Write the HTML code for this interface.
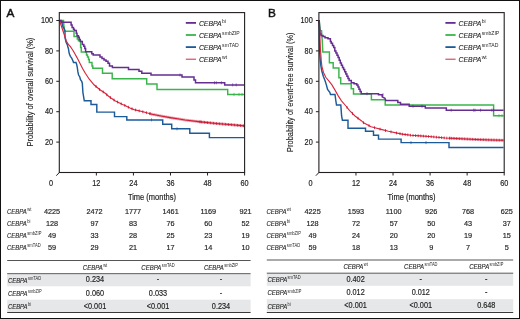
<!DOCTYPE html>
<html><head><meta charset="utf-8"><style>
html,body{margin:0;padding:0;background:#fff;}
svg{display:block;font-family:"Liberation Sans", sans-serif;will-change:transform;}
</style></head><body>
<svg width="520" height="319" viewBox="0 0 520 319">
<rect x="0" y="0" width="520" height="319" fill="#fff"/>
<g transform="translate(0,0)">
<text x="6.5" y="16.8" font-size="11.8" fill="#111" stroke="#111" stroke-width="0.45">A</text>
<line x1="56.3" y1="142.10" x2="59.3" y2="142.10" stroke="#231f20" stroke-width="1"/>
<text x="53.10" y="144.85" font-size="8.3" fill="#1f1f1f" text-anchor="end" textLength="8.12" lengthAdjust="spacingAndGlyphs" stroke="#1f1f1f" stroke-width="0.18">20</text>
<line x1="56.3" y1="111.70" x2="59.3" y2="111.70" stroke="#231f20" stroke-width="1"/>
<text x="53.10" y="114.45" font-size="8.3" fill="#1f1f1f" text-anchor="end" textLength="8.12" lengthAdjust="spacingAndGlyphs" stroke="#1f1f1f" stroke-width="0.18">40</text>
<line x1="56.3" y1="81.30" x2="59.3" y2="81.30" stroke="#231f20" stroke-width="1"/>
<text x="53.10" y="84.05" font-size="8.3" fill="#1f1f1f" text-anchor="end" textLength="8.12" lengthAdjust="spacingAndGlyphs" stroke="#1f1f1f" stroke-width="0.18">60</text>
<line x1="56.3" y1="50.90" x2="59.3" y2="50.90" stroke="#231f20" stroke-width="1"/>
<text x="53.10" y="53.65" font-size="8.3" fill="#1f1f1f" text-anchor="end" textLength="8.12" lengthAdjust="spacingAndGlyphs" stroke="#1f1f1f" stroke-width="0.18">80</text>
<line x1="56.3" y1="20.50" x2="59.3" y2="20.50" stroke="#231f20" stroke-width="1"/>
<text x="53.10" y="23.25" font-size="8.3" fill="#1f1f1f" text-anchor="end" textLength="12.18" lengthAdjust="spacingAndGlyphs" stroke="#1f1f1f" stroke-width="0.18">100</text>
<line x1="59.3" y1="172.5" x2="56.3" y2="175.7" stroke="#231f20" stroke-width="1"/>
<line x1="96.36" y1="172.5" x2="96.36" y2="175.5" stroke="#231f20" stroke-width="1"/>
<text x="96.36" y="185.60" font-size="8.3" fill="#1f1f1f" text-anchor="middle" textLength="8.12" lengthAdjust="spacingAndGlyphs" stroke="#1f1f1f" stroke-width="0.18">12</text>
<line x1="133.42" y1="172.5" x2="133.42" y2="175.5" stroke="#231f20" stroke-width="1"/>
<text x="133.42" y="185.60" font-size="8.3" fill="#1f1f1f" text-anchor="middle" textLength="8.12" lengthAdjust="spacingAndGlyphs" stroke="#1f1f1f" stroke-width="0.18">24</text>
<line x1="170.48" y1="172.5" x2="170.48" y2="175.5" stroke="#231f20" stroke-width="1"/>
<text x="170.48" y="185.60" font-size="8.3" fill="#1f1f1f" text-anchor="middle" textLength="8.12" lengthAdjust="spacingAndGlyphs" stroke="#1f1f1f" stroke-width="0.18">36</text>
<line x1="207.54" y1="172.5" x2="207.54" y2="175.5" stroke="#231f20" stroke-width="1"/>
<text x="207.54" y="185.60" font-size="8.3" fill="#1f1f1f" text-anchor="middle" textLength="8.12" lengthAdjust="spacingAndGlyphs" stroke="#1f1f1f" stroke-width="0.18">48</text>
<line x1="244.60" y1="172.5" x2="244.60" y2="175.5" stroke="#231f20" stroke-width="1"/>
<text x="244.60" y="185.60" font-size="8.3" fill="#1f1f1f" text-anchor="middle" textLength="8.12" lengthAdjust="spacingAndGlyphs" stroke="#1f1f1f" stroke-width="0.18">60</text>
<text x="51.00" y="185.60" font-size="8.3" fill="#1f1f1f" text-anchor="middle" textLength="4.06" lengthAdjust="spacingAndGlyphs" stroke="#1f1f1f" stroke-width="0.18">0</text>
<text x="151.90" y="200.40" font-size="8.4" fill="#1f1f1f" text-anchor="middle" textLength="48.00" lengthAdjust="spacingAndGlyphs" stroke="#1f1f1f" stroke-width="0.18">Time (months)</text>
<text transform="translate(33,92.1) rotate(-90)" font-size="8.2" fill="#1f1f1f" stroke="#1f1f1f" stroke-width="0.12" text-anchor="middle" textLength="108.8" lengthAdjust="spacingAndGlyphs">Probability of overall survival (%)</text>
<line x1="185.8" y1="22.90" x2="196" y2="22.90" stroke="#662d91" stroke-width="1.8"/>
<text x="198.90" y="26.00" font-size="8.0" font-style="italic" fill="#262626" stroke="#262626" stroke-width="0.12" textLength="22.80" lengthAdjust="spacingAndGlyphs">CEBPA</text><text x="222.10" y="22.70" font-size="5.8" fill="#262626" textLength="3.97" lengthAdjust="spacingAndGlyphs">bi</text>
<line x1="185.8" y1="35.00" x2="196" y2="35.00" stroke="#39b54a" stroke-width="1.8"/>
<text x="198.90" y="38.00" font-size="8.0" font-style="italic" fill="#262626" stroke="#262626" stroke-width="0.12" textLength="22.80" lengthAdjust="spacingAndGlyphs">CEBPA</text><text x="222.10" y="34.70" font-size="5.8" fill="#262626" textLength="17.57" lengthAdjust="spacingAndGlyphs">smbZIP</text>
<line x1="185.8" y1="47.10" x2="196" y2="47.10" stroke="#1c5a99" stroke-width="1.8"/>
<text x="198.90" y="50.00" font-size="8.0" font-style="italic" fill="#262626" stroke="#262626" stroke-width="0.12" textLength="22.80" lengthAdjust="spacingAndGlyphs">CEBPA</text><text x="222.10" y="46.70" font-size="5.8" fill="#262626" textLength="16.62" lengthAdjust="spacingAndGlyphs">smTAD</text>
<line x1="185.8" y1="59.20" x2="196" y2="59.20" stroke="#d7263d" stroke-width="1.0"/>
<text x="198.90" y="62.00" font-size="8.0" font-style="italic" fill="#262626" stroke="#262626" stroke-width="0.12" textLength="22.80" lengthAdjust="spacingAndGlyphs">CEBPA</text><text x="222.10" y="58.70" font-size="5.8" fill="#262626" textLength="5.10" lengthAdjust="spacingAndGlyphs">wt</text>
<path d="M59.4,20.5 H63.5 V23 H63.8 V27 H64.2 V31.2 H74 V36.4 H77.3 V39 H78.4 V40.8 H80.6 V47.5 H81.3 V52 H86.5 V55 H87.5 V57 H88.5 V59.5 H89.3 V62.5 H92 V66 H92.8 V68.3 H102.5 V73.3 H112.2 V78.8 H146.7 V83.9 H157 V89.4 H227.7 V94.4 H244.5" fill="none" stroke="#39b54a" stroke-width="1.45"/>
<path d="M59.4,20.5 L61.2,22.2 L62.2,23.6 L62.6,25.5 L63.1,27.4 L64.1,28.4 L64.5,29.3 L65,30.7 L65,37.8 L65.5,39.6 L65.9,41.5 L66.4,43 L67.4,44.8 L67.8,46.7 L68.4,48.5 L68.8,51 L69.3,53.8 L70.4,56.3 L71.7,58.1 L72.9,60.7 L73.5,62.5 H76 L76.7,64.4 L77.3,67.5 L77.9,71.9 L78.6,75 L79.8,77 L80.4,79.4 L81.7,81.3 L82.3,83.2 L82.6,87.6 L82.9,92.5 L83.8,97.8 L84.3,100.8 H91 V104.5 H96.8 V112.1 H114.5 V116.6 H126.8 V119.9 H162.7 V124.3 H171.7 V128.8 H189.8 V133.2 H209.4 V137.6 H244.5" fill="none" stroke="#1c5a99" stroke-width="1.45"/>
<path d="M59.4,20.5 H61 V21.5 H62 V22.2 H71.1 V25 H72.1 V27.4 H73.5 V29.3 H74.4 V30.4 H76.3 V33.3 H77 V35.8 H78.4 V37.2 H79.3 V39.6 H80.2 V41.4 H82.3 V44.6 H83.8 V46.3 H84.8 V48.6 H85.6 V51.8 H91.8 V53.8 H93.2 V55.1 H100 V57 H102 V58.6 H104 V60.1 H106 V61.3 H108 V63.2 H109.5 V65.9 H112.4 V67.6 H128.5 V69.6 H139 V71.2 H141.8 V73.3 H151 V75.0 H182 V77.1 H194 V80 H195.5 V82.8 H224.7 V84.9 H244.5" fill="none" stroke="#662d91" stroke-width="1.5"/>
<path d="M180,73.50V76.50M214.5,81.30V84.30M216.3,81.30V84.30M221.4,81.30V84.30M232.7,83.40V86.40M236.2,83.40V86.40" stroke="#662d91" stroke-width="0.7" fill="none"/><path d="M234,92.90V95.90M239,92.90V95.90M242,92.90V95.90" stroke="#39b54a" stroke-width="0.7" fill="none"/><path d="M177,127.30V130.30M151.5,118.40V121.40" stroke="#1c5a99" stroke-width="0.7" fill="none"/>
<path d="M59.4,20.7 L60.5,23.5 L62,28 L63.5,32.5 L65,36.8 L66.3,41 L68.3,44.4 L70.4,46.6 L72,49 L73.3,51 L75,54 L77,57.6 L79.9,63.2 L82.7,68.8 L85.5,73.5 L89.3,79.2 L94,84.8 L99.6,89.5 L105.2,93.3 L108,95.8 L111,98 L115,100.7 L119.5,103 L122.6,104.5 L125,105.5 L130,108 L134,109.6 L143,111.8 L152,114.2 L161,116 L170,117.6 L179,119 L185,120 L200.7,121.9 L216.3,123.5 L232,124.8 L244.5,125.9" fill="none" stroke="#d7263d" stroke-width="1.15"/>
<path d="M96.00,85.08V87.88M99.60,88.10V90.90M103.20,90.54V93.34M106.80,93.33V96.13M110.40,96.16V98.96M114.00,98.62V101.42M117.60,100.63V103.43M121.20,102.42V105.22M124.80,104.02V106.82M128.40,105.80V108.60M132.00,107.40V110.20M135.60,108.59V111.39M139.20,109.47V112.27M142.80,110.35V113.15M146.40,111.31V114.11M150.00,112.27V115.07M150.00,112.27V115.07M152.00,112.80V115.60M154.00,113.20V116.00M156.00,113.60V116.40M158.00,114.00V116.80M160.00,114.40V117.20M162.00,114.78V117.58M164.00,115.13V117.93M166.00,115.49V118.29M168.00,115.84V118.64M170.00,116.20V119.00M172.00,116.51V119.31M174.00,116.82V119.62M176.00,117.13V119.93M178.00,117.44V120.24M180.00,117.77V120.57M182.00,118.10V120.90M184.00,118.43V121.23M186.00,118.72V121.52M188.00,118.96V121.76M190.00,119.21V122.01M192.00,119.45V122.25M194.00,119.69V122.49M196.00,119.93V122.73M198.00,120.17V122.97M200.00,120.42V123.22M200.00,120.42V123.22M201.50,120.58V123.38M203.00,120.74V123.54M204.50,120.89V123.69M206.00,121.04V123.84M207.50,121.20V124.00M209.00,121.35V124.15M210.50,121.51V124.31M212.00,121.66V124.46M213.50,121.81V124.61M215.00,121.97V124.77M216.50,122.12V124.92M218.00,122.24V125.04M219.50,122.36V125.16M221.00,122.49V125.29M222.50,122.61V125.41M224.00,122.74V125.54M225.50,122.86V125.66M227.00,122.99V125.79M228.50,123.11V125.91M230.00,123.23V126.03M231.50,123.36V126.16M233.00,123.49V126.29M234.50,123.62V126.42M236.00,123.75V126.55M237.50,123.88V126.68M239.00,124.02V126.82M240.50,124.15V126.95M242.00,124.28V127.08M243.50,124.41V127.21" stroke="#c8102e" stroke-width="0.8" fill="none"/>
<rect x="59.3" y="12.6" width="185.30" height="159.90" fill="none" stroke="#231f20" stroke-width="1.1"/>
<text x="6.95" y="213.70" font-size="6.4" font-style="italic" fill="#262626" stroke="#262626" stroke-width="0.12" textLength="19.90" lengthAdjust="spacingAndGlyphs">CEBPA</text><text x="27.25" y="211.20" font-size="4.7" fill="#262626" textLength="4.10" lengthAdjust="spacingAndGlyphs">wt</text>
<text x="52.00" y="213.70" font-size="8.0" fill="#1f1f1f" text-anchor="middle" textLength="16.24" lengthAdjust="spacingAndGlyphs" stroke="#1f1f1f" stroke-width="0.18">4225</text>
<text x="94.50" y="213.70" font-size="8.0" fill="#1f1f1f" text-anchor="middle" textLength="16.24" lengthAdjust="spacingAndGlyphs" stroke="#1f1f1f" stroke-width="0.18">2472</text>
<text x="133.00" y="213.70" font-size="8.0" fill="#1f1f1f" text-anchor="middle" textLength="16.24" lengthAdjust="spacingAndGlyphs" stroke="#1f1f1f" stroke-width="0.18">1777</text>
<text x="170.60" y="213.70" font-size="8.0" fill="#1f1f1f" text-anchor="middle" textLength="16.24" lengthAdjust="spacingAndGlyphs" stroke="#1f1f1f" stroke-width="0.18">1461</text>
<text x="208.30" y="213.70" font-size="8.0" fill="#1f1f1f" text-anchor="middle" textLength="15.70" lengthAdjust="spacingAndGlyphs" stroke="#1f1f1f" stroke-width="0.18">1169</text>
<text x="245.50" y="213.70" font-size="8.0" fill="#1f1f1f" text-anchor="middle" textLength="12.18" lengthAdjust="spacingAndGlyphs" stroke="#1f1f1f" stroke-width="0.18">921</text>
<text x="6.95" y="225.67" font-size="6.4" font-style="italic" fill="#262626" stroke="#262626" stroke-width="0.12" textLength="19.90" lengthAdjust="spacingAndGlyphs">CEBPA</text><text x="27.25" y="223.17" font-size="4.7" fill="#262626" textLength="3.19" lengthAdjust="spacingAndGlyphs">bi</text>
<text x="52.00" y="225.67" font-size="8.0" fill="#1f1f1f" text-anchor="middle" textLength="12.18" lengthAdjust="spacingAndGlyphs" stroke="#1f1f1f" stroke-width="0.18">128</text>
<text x="94.50" y="225.67" font-size="8.0" fill="#1f1f1f" text-anchor="middle" textLength="8.12" lengthAdjust="spacingAndGlyphs" stroke="#1f1f1f" stroke-width="0.18">97</text>
<text x="133.00" y="225.67" font-size="8.0" fill="#1f1f1f" text-anchor="middle" textLength="8.12" lengthAdjust="spacingAndGlyphs" stroke="#1f1f1f" stroke-width="0.18">83</text>
<text x="170.60" y="225.67" font-size="8.0" fill="#1f1f1f" text-anchor="middle" textLength="8.12" lengthAdjust="spacingAndGlyphs" stroke="#1f1f1f" stroke-width="0.18">76</text>
<text x="208.30" y="225.67" font-size="8.0" fill="#1f1f1f" text-anchor="middle" textLength="8.12" lengthAdjust="spacingAndGlyphs" stroke="#1f1f1f" stroke-width="0.18">60</text>
<text x="245.50" y="225.67" font-size="8.0" fill="#1f1f1f" text-anchor="middle" textLength="8.12" lengthAdjust="spacingAndGlyphs" stroke="#1f1f1f" stroke-width="0.18">52</text>
<text x="6.95" y="237.64" font-size="6.4" font-style="italic" fill="#262626" stroke="#262626" stroke-width="0.12" textLength="19.90" lengthAdjust="spacingAndGlyphs">CEBPA</text><text x="27.25" y="235.14" font-size="4.7" fill="#262626" textLength="14.12" lengthAdjust="spacingAndGlyphs">smbZIP</text>
<text x="52.00" y="237.64" font-size="8.0" fill="#1f1f1f" text-anchor="middle" textLength="8.12" lengthAdjust="spacingAndGlyphs" stroke="#1f1f1f" stroke-width="0.18">49</text>
<text x="94.50" y="237.64" font-size="8.0" fill="#1f1f1f" text-anchor="middle" textLength="8.12" lengthAdjust="spacingAndGlyphs" stroke="#1f1f1f" stroke-width="0.18">33</text>
<text x="133.00" y="237.64" font-size="8.0" fill="#1f1f1f" text-anchor="middle" textLength="8.12" lengthAdjust="spacingAndGlyphs" stroke="#1f1f1f" stroke-width="0.18">28</text>
<text x="170.60" y="237.64" font-size="8.0" fill="#1f1f1f" text-anchor="middle" textLength="8.12" lengthAdjust="spacingAndGlyphs" stroke="#1f1f1f" stroke-width="0.18">25</text>
<text x="208.30" y="237.64" font-size="8.0" fill="#1f1f1f" text-anchor="middle" textLength="8.12" lengthAdjust="spacingAndGlyphs" stroke="#1f1f1f" stroke-width="0.18">23</text>
<text x="245.50" y="237.64" font-size="8.0" fill="#1f1f1f" text-anchor="middle" textLength="8.12" lengthAdjust="spacingAndGlyphs" stroke="#1f1f1f" stroke-width="0.18">19</text>
<text x="6.95" y="249.61" font-size="6.4" font-style="italic" fill="#262626" stroke="#262626" stroke-width="0.12" textLength="19.90" lengthAdjust="spacingAndGlyphs">CEBPA</text><text x="27.25" y="247.11" font-size="4.7" fill="#262626" textLength="13.36" lengthAdjust="spacingAndGlyphs">smTAD</text>
<text x="52.00" y="249.61" font-size="8.0" fill="#1f1f1f" text-anchor="middle" textLength="8.12" lengthAdjust="spacingAndGlyphs" stroke="#1f1f1f" stroke-width="0.18">59</text>
<text x="94.50" y="249.61" font-size="8.0" fill="#1f1f1f" text-anchor="middle" textLength="8.12" lengthAdjust="spacingAndGlyphs" stroke="#1f1f1f" stroke-width="0.18">29</text>
<text x="133.00" y="249.61" font-size="8.0" fill="#1f1f1f" text-anchor="middle" textLength="8.12" lengthAdjust="spacingAndGlyphs" stroke="#1f1f1f" stroke-width="0.18">21</text>
<text x="170.60" y="249.61" font-size="8.0" fill="#1f1f1f" text-anchor="middle" textLength="8.12" lengthAdjust="spacingAndGlyphs" stroke="#1f1f1f" stroke-width="0.18">17</text>
<text x="208.30" y="249.61" font-size="8.0" fill="#1f1f1f" text-anchor="middle" textLength="8.12" lengthAdjust="spacingAndGlyphs" stroke="#1f1f1f" stroke-width="0.18">14</text>
<text x="245.50" y="249.61" font-size="8.0" fill="#1f1f1f" text-anchor="middle" textLength="8.12" lengthAdjust="spacingAndGlyphs" stroke="#1f1f1f" stroke-width="0.18">10</text>
<rect x="7.2" y="274.3" width="243.4" height="12" fill="#e6e7e8"/>
<rect x="7.2" y="299.7" width="243.4" height="12.4" fill="#e6e7e8"/>
<line x1="7.2" y1="260.5" x2="250.6" y2="260.5" stroke="#555" stroke-width="1"/>
<line x1="7.2" y1="273.7" x2="250.6" y2="273.7" stroke="#555" stroke-width="1"/>
<line x1="7.2" y1="312.5" x2="250.6" y2="312.5" stroke="#3a3a3a" stroke-width="1.1"/>
<text x="82.85" y="269.60" font-size="7.1" font-style="italic" fill="#262626" stroke="#262626" stroke-width="0.12" textLength="19.90" lengthAdjust="spacingAndGlyphs">CEBPA</text><text x="103.15" y="266.90" font-size="4.7" fill="#262626" textLength="4.00" lengthAdjust="spacingAndGlyphs">wt</text>
<text x="141.33" y="269.60" font-size="7.1" font-style="italic" fill="#262626" stroke="#262626" stroke-width="0.12" textLength="19.90" lengthAdjust="spacingAndGlyphs">CEBPA</text><text x="161.63" y="266.90" font-size="4.7" fill="#262626" textLength="13.04" lengthAdjust="spacingAndGlyphs">smTAD</text>
<text x="203.96" y="269.60" font-size="7.1" font-style="italic" fill="#262626" stroke="#262626" stroke-width="0.12" textLength="19.90" lengthAdjust="spacingAndGlyphs">CEBPA</text><text x="224.26" y="266.90" font-size="4.7" fill="#262626" textLength="13.78" lengthAdjust="spacingAndGlyphs">smbZIP</text>
<text x="7.90" y="282.50" font-size="7.1" font-style="italic" fill="#262626" stroke="#262626" stroke-width="0.12" textLength="19.70" lengthAdjust="spacingAndGlyphs">CEBPA</text><text x="28.00" y="279.80" font-size="4.7" fill="#262626" textLength="13.04" lengthAdjust="spacingAndGlyphs">smTAD</text>
<text x="95.00" y="282.30" font-size="8.6" fill="#1f1f1f" text-anchor="middle" textLength="18.27" lengthAdjust="spacingAndGlyphs" stroke="#1f1f1f" stroke-width="0.18">0.234</text>
<text x="158.00" y="282.30" font-size="8.6" fill="#1f1f1f" text-anchor="middle" textLength="2.43" lengthAdjust="spacingAndGlyphs" stroke="#1f1f1f" stroke-width="0.18">-</text>
<text x="221.00" y="282.30" font-size="8.6" fill="#1f1f1f" text-anchor="middle" textLength="2.43" lengthAdjust="spacingAndGlyphs" stroke="#1f1f1f" stroke-width="0.18">-</text>
<text x="7.90" y="295.80" font-size="7.1" font-style="italic" fill="#262626" stroke="#262626" stroke-width="0.12" textLength="19.70" lengthAdjust="spacingAndGlyphs">CEBPA</text><text x="28.00" y="293.10" font-size="4.7" fill="#262626" textLength="13.78" lengthAdjust="spacingAndGlyphs">smbZIP</text>
<text x="95.00" y="295.60" font-size="8.6" fill="#1f1f1f" text-anchor="middle" textLength="18.27" lengthAdjust="spacingAndGlyphs" stroke="#1f1f1f" stroke-width="0.18">0.060</text>
<text x="158.00" y="295.60" font-size="8.6" fill="#1f1f1f" text-anchor="middle" textLength="18.27" lengthAdjust="spacingAndGlyphs" stroke="#1f1f1f" stroke-width="0.18">0.033</text>
<text x="221.00" y="295.60" font-size="8.6" fill="#1f1f1f" text-anchor="middle" textLength="2.43" lengthAdjust="spacingAndGlyphs" stroke="#1f1f1f" stroke-width="0.18">-</text>
<text x="7.90" y="309.10" font-size="7.1" font-style="italic" fill="#262626" stroke="#262626" stroke-width="0.12" textLength="19.70" lengthAdjust="spacingAndGlyphs">CEBPA</text><text x="28.00" y="306.40" font-size="4.7" fill="#262626" textLength="3.11" lengthAdjust="spacingAndGlyphs">bi</text>
<text x="95.00" y="308.90" font-size="8.6" fill="#1f1f1f" text-anchor="middle" textLength="22.53" lengthAdjust="spacingAndGlyphs" stroke="#1f1f1f" stroke-width="0.18">&lt;0.001</text>
<text x="158.00" y="308.90" font-size="8.6" fill="#1f1f1f" text-anchor="middle" textLength="22.53" lengthAdjust="spacingAndGlyphs" stroke="#1f1f1f" stroke-width="0.18">&lt;0.001</text>
<text x="221.00" y="308.90" font-size="8.6" fill="#1f1f1f" text-anchor="middle" textLength="18.27" lengthAdjust="spacingAndGlyphs" stroke="#1f1f1f" stroke-width="0.18">0.234</text>
</g>
<g transform="translate(259.6,0)">
<text x="8.3" y="16.5" font-size="11.8" fill="#111" stroke="#111" stroke-width="0.45">B</text>
<line x1="56.3" y1="142.10" x2="59.3" y2="142.10" stroke="#231f20" stroke-width="1"/>
<text x="53.10" y="144.85" font-size="8.3" fill="#1f1f1f" text-anchor="end" textLength="8.12" lengthAdjust="spacingAndGlyphs" stroke="#1f1f1f" stroke-width="0.18">20</text>
<line x1="56.3" y1="111.70" x2="59.3" y2="111.70" stroke="#231f20" stroke-width="1"/>
<text x="53.10" y="114.45" font-size="8.3" fill="#1f1f1f" text-anchor="end" textLength="8.12" lengthAdjust="spacingAndGlyphs" stroke="#1f1f1f" stroke-width="0.18">40</text>
<line x1="56.3" y1="81.30" x2="59.3" y2="81.30" stroke="#231f20" stroke-width="1"/>
<text x="53.10" y="84.05" font-size="8.3" fill="#1f1f1f" text-anchor="end" textLength="8.12" lengthAdjust="spacingAndGlyphs" stroke="#1f1f1f" stroke-width="0.18">60</text>
<line x1="56.3" y1="50.90" x2="59.3" y2="50.90" stroke="#231f20" stroke-width="1"/>
<text x="53.10" y="53.65" font-size="8.3" fill="#1f1f1f" text-anchor="end" textLength="8.12" lengthAdjust="spacingAndGlyphs" stroke="#1f1f1f" stroke-width="0.18">80</text>
<line x1="56.3" y1="20.50" x2="59.3" y2="20.50" stroke="#231f20" stroke-width="1"/>
<text x="53.10" y="23.25" font-size="8.3" fill="#1f1f1f" text-anchor="end" textLength="12.18" lengthAdjust="spacingAndGlyphs" stroke="#1f1f1f" stroke-width="0.18">100</text>
<line x1="59.3" y1="172.5" x2="56.3" y2="175.7" stroke="#231f20" stroke-width="1"/>
<line x1="96.36" y1="172.5" x2="96.36" y2="175.5" stroke="#231f20" stroke-width="1"/>
<text x="96.36" y="185.60" font-size="8.3" fill="#1f1f1f" text-anchor="middle" textLength="8.12" lengthAdjust="spacingAndGlyphs" stroke="#1f1f1f" stroke-width="0.18">12</text>
<line x1="133.42" y1="172.5" x2="133.42" y2="175.5" stroke="#231f20" stroke-width="1"/>
<text x="133.42" y="185.60" font-size="8.3" fill="#1f1f1f" text-anchor="middle" textLength="8.12" lengthAdjust="spacingAndGlyphs" stroke="#1f1f1f" stroke-width="0.18">24</text>
<line x1="170.48" y1="172.5" x2="170.48" y2="175.5" stroke="#231f20" stroke-width="1"/>
<text x="170.48" y="185.60" font-size="8.3" fill="#1f1f1f" text-anchor="middle" textLength="8.12" lengthAdjust="spacingAndGlyphs" stroke="#1f1f1f" stroke-width="0.18">36</text>
<line x1="207.54" y1="172.5" x2="207.54" y2="175.5" stroke="#231f20" stroke-width="1"/>
<text x="207.54" y="185.60" font-size="8.3" fill="#1f1f1f" text-anchor="middle" textLength="8.12" lengthAdjust="spacingAndGlyphs" stroke="#1f1f1f" stroke-width="0.18">48</text>
<line x1="244.60" y1="172.5" x2="244.60" y2="175.5" stroke="#231f20" stroke-width="1"/>
<text x="244.60" y="185.60" font-size="8.3" fill="#1f1f1f" text-anchor="middle" textLength="8.12" lengthAdjust="spacingAndGlyphs" stroke="#1f1f1f" stroke-width="0.18">60</text>
<text x="51.00" y="185.60" font-size="8.3" fill="#1f1f1f" text-anchor="middle" textLength="4.06" lengthAdjust="spacingAndGlyphs" stroke="#1f1f1f" stroke-width="0.18">0</text>
<text x="151.90" y="200.40" font-size="8.4" fill="#1f1f1f" text-anchor="middle" textLength="48.00" lengthAdjust="spacingAndGlyphs" stroke="#1f1f1f" stroke-width="0.18">Time (months)</text>
<text transform="translate(33,92.2) rotate(-90)" font-size="8.2" fill="#1f1f1f" stroke="#1f1f1f" stroke-width="0.12" text-anchor="middle" textLength="119.4" lengthAdjust="spacingAndGlyphs">Probability of event-free survival (%)</text>
<line x1="185.8" y1="22.90" x2="196" y2="22.90" stroke="#662d91" stroke-width="1.8"/>
<text x="198.90" y="26.00" font-size="8.0" font-style="italic" fill="#262626" stroke="#262626" stroke-width="0.12" textLength="22.80" lengthAdjust="spacingAndGlyphs">CEBPA</text><text x="222.10" y="22.70" font-size="5.8" fill="#262626" textLength="3.97" lengthAdjust="spacingAndGlyphs">bi</text>
<line x1="185.8" y1="35.00" x2="196" y2="35.00" stroke="#39b54a" stroke-width="1.8"/>
<text x="198.90" y="38.00" font-size="8.0" font-style="italic" fill="#262626" stroke="#262626" stroke-width="0.12" textLength="22.80" lengthAdjust="spacingAndGlyphs">CEBPA</text><text x="222.10" y="34.70" font-size="5.8" fill="#262626" textLength="17.57" lengthAdjust="spacingAndGlyphs">smbZIP</text>
<line x1="185.8" y1="47.10" x2="196" y2="47.10" stroke="#1c5a99" stroke-width="1.8"/>
<text x="198.90" y="50.00" font-size="8.0" font-style="italic" fill="#262626" stroke="#262626" stroke-width="0.12" textLength="22.80" lengthAdjust="spacingAndGlyphs">CEBPA</text><text x="222.10" y="46.70" font-size="5.8" fill="#262626" textLength="16.62" lengthAdjust="spacingAndGlyphs">smTAD</text>
<line x1="185.8" y1="59.20" x2="196" y2="59.20" stroke="#d7263d" stroke-width="1.0"/>
<text x="198.90" y="62.00" font-size="8.0" font-style="italic" fill="#262626" stroke="#262626" stroke-width="0.12" textLength="22.80" lengthAdjust="spacingAndGlyphs">CEBPA</text><text x="222.10" y="58.70" font-size="5.8" fill="#262626" textLength="5.10" lengthAdjust="spacingAndGlyphs">wt</text>
<g transform="translate(-259.6,0)"><path d="M319.2,20.3 L319.8,26 L320.2,30.6 H321.6 L321.9,36.9 L322.2,40 L322.5,45 L322.8,51.9 H329.4 V62.8 H333.2 V67.9 H338.9 V77.8 H340.7 V83.8 H351.2 V88.8 H353.5 V93.9 H371.4 V99.8 H385.2 V105 H493.6 V115.7 H503.5" fill="none" stroke="#39b54a" stroke-width="1.45"/>
<path d="M319.2,20.3 L319.4,40 L319.6,51 L320.3,60.5 L320.9,66 L321.8,71 L323.3,76.3 L324.8,80.1 L326.3,84.6 L327.6,89.5 L329.8,92.3 L330.5,94.5 H335 L335.8,100.5 L336.5,105 H340.8 L341.6,116 L342.4,120.3 H348 V128.2 H365.5 V131.3 H373.5 V135.2 H378.5 V139.1 H401.1 V142.6 H449 V147.5 H503.5" fill="none" stroke="#1c5a99" stroke-width="1.45"/>
<path d="M319.2,20.3 L319.5,26 L320.2,34 H321 V35.5 H323 V36.5 H325 V37.8 H328 V38.8 H330.4 V41.5 H331.2 V43.2 H332.5 V45.4 H333.7 V47.6 H334.8 V50.9 H335.9 V53.1 H337 V55.3 H338.1 V57.5 H339.2 V60.2 H340.3 V63 H341.4 V65.2 H342.5 V67.4 H343.6 V69.6 H344.7 V71.8 H345.8 V74 H346.9 V76.2 H348 V78.4 H349.1 V80.5 H351.3 V82.7 H354 V83.8 H356.8 V84.9 H358 V87 H359 V89.3 H360.1 V91.5 H361.2 V93.7 H378.5 V94.8 H382.2 V96.8 L385,98.3 L385.8,100.6 H397.8 V102.4 H400.5 V104.3 H409.2 V106.3 H425.3 V107.9 H446.3 V110.2 H503.5" fill="none" stroke="#662d91" stroke-width="1.5"/>
<path d="M451.2,108.70V111.70M473.7,108.70V111.70M475,108.70V111.70M480.6,108.70V111.70M491.8,108.70V111.70M493.6,108.70V111.70M367,92.20V95.20M383,93.30V96.30M413,104.80V107.80M422,104.80V107.80" stroke="#662d91" stroke-width="0.7" fill="none"/><path d="M499,114.20V117.20M502,114.20V117.20" stroke="#39b54a" stroke-width="0.7" fill="none"/><path d="M411,141.10V144.10M426,141.10V144.10" stroke="#1c5a99" stroke-width="0.7" fill="none"/>
<path d="M319.2,20.3 L319.6,30 L320,40 L320.4,48.8 L320.9,55 L321.3,61 L321.9,66.3 L323.5,72.5 L325.8,77.3 L329,81.2 L332.1,85.1 L335.3,90.6 L338.4,96.1 L341.5,100.8 L345.5,105.5 L349.4,110.4 L355,116 L361.3,120.7 L363.6,122.8 L371.1,126.8 L375,127.8 L381,129.4 L388.5,131.3 L396.1,132.9 L402.1,134.1 L411.1,135.3 L420.1,135.9 L429.1,136.5 L445.4,138 L460.8,138.7 L476.2,139.5 L491.5,140 L503.5,140.3" fill="none" stroke="#d7263d" stroke-width="1.1"/>
<path d="M347.00,105.98V108.78M352.50,112.10V114.90M358.00,116.84V119.64M363.50,121.31V124.11M369.00,124.28V127.08M374.50,126.27V129.07M380.00,127.73V130.53M385.50,129.14V131.94M391.00,130.43V133.23M396.50,131.58V134.38M400.00,132.28V135.08M402.60,132.77V135.57M405.20,133.11V135.91M407.80,133.46V136.26M410.40,133.81V136.61M413.00,134.03V136.83M415.60,134.20V137.00M418.20,134.37V137.17M420.80,134.55V137.35M423.40,134.72V137.52M426.00,134.89V137.69M428.60,135.07V137.87M431.20,135.29V138.09M433.80,135.53V138.33M436.40,135.77V138.57M439.00,136.01V138.81M441.60,136.25V139.05M444.20,136.49V139.29M446.80,136.66V139.46M449.40,136.78V139.58M450.00,136.81V139.61M451.60,136.88V139.68M453.20,136.95V139.75M454.80,137.03V139.83M456.40,137.10V139.90M458.00,137.17V139.97M459.60,137.25V140.05M461.20,137.32V140.12M462.80,137.40V140.20M464.40,137.49V140.29M466.00,137.57V140.37M467.60,137.65V140.45M469.20,137.74V140.54M470.80,137.82V140.62M472.40,137.90V140.70M474.00,137.99V140.79M475.60,138.07V140.87M477.20,138.13V140.93M478.80,138.18V140.98M480.40,138.24V141.04M482.00,138.29V141.09M483.60,138.34V141.14M485.20,138.39V141.19M486.80,138.45V141.25M488.40,138.50V141.30M490.00,138.55V141.35M491.60,138.60V141.40M493.20,138.64V141.44M494.80,138.68V141.48M496.40,138.72V141.52M498.00,138.76V141.56M499.60,138.80V141.60M501.20,138.84V141.64M502.80,138.88V141.68" stroke="#c8102e" stroke-width="0.8" fill="none"/></g>
<rect x="59.3" y="12.6" width="185.30" height="159.90" fill="none" stroke="#231f20" stroke-width="1.1"/>
<text x="6.95" y="213.70" font-size="6.4" font-style="italic" fill="#262626" stroke="#262626" stroke-width="0.12" textLength="19.90" lengthAdjust="spacingAndGlyphs">CEBPA</text><text x="27.25" y="211.20" font-size="4.7" fill="#262626" textLength="4.10" lengthAdjust="spacingAndGlyphs">wt</text>
<text x="53.00" y="213.70" font-size="8.0" fill="#1f1f1f" text-anchor="middle" textLength="16.24" lengthAdjust="spacingAndGlyphs" stroke="#1f1f1f" stroke-width="0.18">4225</text>
<text x="96.40" y="213.70" font-size="8.0" fill="#1f1f1f" text-anchor="middle" textLength="16.24" lengthAdjust="spacingAndGlyphs" stroke="#1f1f1f" stroke-width="0.18">1593</text>
<text x="134.10" y="213.70" font-size="8.0" fill="#1f1f1f" text-anchor="middle" textLength="15.70" lengthAdjust="spacingAndGlyphs" stroke="#1f1f1f" stroke-width="0.18">1100</text>
<text x="171.60" y="213.70" font-size="8.0" fill="#1f1f1f" text-anchor="middle" textLength="12.18" lengthAdjust="spacingAndGlyphs" stroke="#1f1f1f" stroke-width="0.18">926</text>
<text x="208.40" y="213.70" font-size="8.0" fill="#1f1f1f" text-anchor="middle" textLength="12.18" lengthAdjust="spacingAndGlyphs" stroke="#1f1f1f" stroke-width="0.18">768</text>
<text x="247.20" y="213.70" font-size="8.0" fill="#1f1f1f" text-anchor="middle" textLength="12.18" lengthAdjust="spacingAndGlyphs" stroke="#1f1f1f" stroke-width="0.18">625</text>
<text x="6.95" y="225.67" font-size="6.4" font-style="italic" fill="#262626" stroke="#262626" stroke-width="0.12" textLength="19.90" lengthAdjust="spacingAndGlyphs">CEBPA</text><text x="27.25" y="223.17" font-size="4.7" fill="#262626" textLength="3.19" lengthAdjust="spacingAndGlyphs">bi</text>
<text x="53.00" y="225.67" font-size="8.0" fill="#1f1f1f" text-anchor="middle" textLength="12.18" lengthAdjust="spacingAndGlyphs" stroke="#1f1f1f" stroke-width="0.18">128</text>
<text x="96.40" y="225.67" font-size="8.0" fill="#1f1f1f" text-anchor="middle" textLength="8.12" lengthAdjust="spacingAndGlyphs" stroke="#1f1f1f" stroke-width="0.18">72</text>
<text x="134.10" y="225.67" font-size="8.0" fill="#1f1f1f" text-anchor="middle" textLength="8.12" lengthAdjust="spacingAndGlyphs" stroke="#1f1f1f" stroke-width="0.18">57</text>
<text x="171.60" y="225.67" font-size="8.0" fill="#1f1f1f" text-anchor="middle" textLength="8.12" lengthAdjust="spacingAndGlyphs" stroke="#1f1f1f" stroke-width="0.18">50</text>
<text x="208.40" y="225.67" font-size="8.0" fill="#1f1f1f" text-anchor="middle" textLength="8.12" lengthAdjust="spacingAndGlyphs" stroke="#1f1f1f" stroke-width="0.18">43</text>
<text x="247.20" y="225.67" font-size="8.0" fill="#1f1f1f" text-anchor="middle" textLength="8.12" lengthAdjust="spacingAndGlyphs" stroke="#1f1f1f" stroke-width="0.18">37</text>
<text x="6.95" y="237.64" font-size="6.4" font-style="italic" fill="#262626" stroke="#262626" stroke-width="0.12" textLength="19.90" lengthAdjust="spacingAndGlyphs">CEBPA</text><text x="27.25" y="235.14" font-size="4.7" fill="#262626" textLength="14.12" lengthAdjust="spacingAndGlyphs">smbZIP</text>
<text x="53.00" y="237.64" font-size="8.0" fill="#1f1f1f" text-anchor="middle" textLength="8.12" lengthAdjust="spacingAndGlyphs" stroke="#1f1f1f" stroke-width="0.18">49</text>
<text x="96.40" y="237.64" font-size="8.0" fill="#1f1f1f" text-anchor="middle" textLength="8.12" lengthAdjust="spacingAndGlyphs" stroke="#1f1f1f" stroke-width="0.18">24</text>
<text x="134.10" y="237.64" font-size="8.0" fill="#1f1f1f" text-anchor="middle" textLength="8.12" lengthAdjust="spacingAndGlyphs" stroke="#1f1f1f" stroke-width="0.18">20</text>
<text x="171.60" y="237.64" font-size="8.0" fill="#1f1f1f" text-anchor="middle" textLength="8.12" lengthAdjust="spacingAndGlyphs" stroke="#1f1f1f" stroke-width="0.18">20</text>
<text x="208.40" y="237.64" font-size="8.0" fill="#1f1f1f" text-anchor="middle" textLength="8.12" lengthAdjust="spacingAndGlyphs" stroke="#1f1f1f" stroke-width="0.18">19</text>
<text x="247.20" y="237.64" font-size="8.0" fill="#1f1f1f" text-anchor="middle" textLength="8.12" lengthAdjust="spacingAndGlyphs" stroke="#1f1f1f" stroke-width="0.18">15</text>
<text x="6.95" y="249.61" font-size="6.4" font-style="italic" fill="#262626" stroke="#262626" stroke-width="0.12" textLength="19.90" lengthAdjust="spacingAndGlyphs">CEBPA</text><text x="27.25" y="247.11" font-size="4.7" fill="#262626" textLength="13.36" lengthAdjust="spacingAndGlyphs">smTAD</text>
<text x="53.00" y="249.61" font-size="8.0" fill="#1f1f1f" text-anchor="middle" textLength="8.12" lengthAdjust="spacingAndGlyphs" stroke="#1f1f1f" stroke-width="0.18">59</text>
<text x="96.40" y="249.61" font-size="8.0" fill="#1f1f1f" text-anchor="middle" textLength="8.12" lengthAdjust="spacingAndGlyphs" stroke="#1f1f1f" stroke-width="0.18">18</text>
<text x="134.10" y="249.61" font-size="8.0" fill="#1f1f1f" text-anchor="middle" textLength="8.12" lengthAdjust="spacingAndGlyphs" stroke="#1f1f1f" stroke-width="0.18">13</text>
<text x="171.60" y="249.61" font-size="8.0" fill="#1f1f1f" text-anchor="middle" textLength="4.06" lengthAdjust="spacingAndGlyphs" stroke="#1f1f1f" stroke-width="0.18">9</text>
<text x="208.40" y="249.61" font-size="8.0" fill="#1f1f1f" text-anchor="middle" textLength="4.06" lengthAdjust="spacingAndGlyphs" stroke="#1f1f1f" stroke-width="0.18">7</text>
<text x="247.20" y="249.61" font-size="8.0" fill="#1f1f1f" text-anchor="middle" textLength="4.06" lengthAdjust="spacingAndGlyphs" stroke="#1f1f1f" stroke-width="0.18">5</text>
<rect x="7.2" y="273.8" width="246.4" height="12" fill="#e6e7e8"/>
<rect x="7.2" y="299.2" width="246.4" height="12.4" fill="#e6e7e8"/>
<line x1="7.2" y1="260.0" x2="253.6" y2="260.0" stroke="#555" stroke-width="1"/>
<line x1="7.2" y1="273.2" x2="253.6" y2="273.2" stroke="#555" stroke-width="1"/>
<line x1="7.2" y1="312.5" x2="253.6" y2="312.5" stroke="#3a3a3a" stroke-width="1.1"/>
<text x="83.85" y="269.10" font-size="7.1" font-style="italic" fill="#262626" stroke="#262626" stroke-width="0.12" textLength="19.90" lengthAdjust="spacingAndGlyphs">CEBPA</text><text x="104.15" y="266.40" font-size="4.7" fill="#262626" textLength="4.00" lengthAdjust="spacingAndGlyphs">wt</text>
<text x="144.53" y="269.10" font-size="7.1" font-style="italic" fill="#262626" stroke="#262626" stroke-width="0.12" textLength="19.90" lengthAdjust="spacingAndGlyphs">CEBPA</text><text x="164.83" y="266.40" font-size="4.7" fill="#262626" textLength="13.04" lengthAdjust="spacingAndGlyphs">smTAD</text>
<text x="209.66" y="269.10" font-size="7.1" font-style="italic" fill="#262626" stroke="#262626" stroke-width="0.12" textLength="19.90" lengthAdjust="spacingAndGlyphs">CEBPA</text><text x="229.96" y="266.40" font-size="4.7" fill="#262626" textLength="13.78" lengthAdjust="spacingAndGlyphs">smbZIP</text>
<text x="7.90" y="282.00" font-size="7.1" font-style="italic" fill="#262626" stroke="#262626" stroke-width="0.12" textLength="19.70" lengthAdjust="spacingAndGlyphs">CEBPA</text><text x="28.00" y="279.30" font-size="4.7" fill="#262626" textLength="13.04" lengthAdjust="spacingAndGlyphs">smTAD</text>
<text x="96.00" y="281.80" font-size="8.6" fill="#1f1f1f" text-anchor="middle" textLength="18.27" lengthAdjust="spacingAndGlyphs" stroke="#1f1f1f" stroke-width="0.18">0.402</text>
<text x="161.20" y="281.80" font-size="8.6" fill="#1f1f1f" text-anchor="middle" textLength="2.43" lengthAdjust="spacingAndGlyphs" stroke="#1f1f1f" stroke-width="0.18">-</text>
<text x="226.70" y="281.80" font-size="8.6" fill="#1f1f1f" text-anchor="middle" textLength="2.43" lengthAdjust="spacingAndGlyphs" stroke="#1f1f1f" stroke-width="0.18">-</text>
<text x="7.90" y="295.30" font-size="7.1" font-style="italic" fill="#262626" stroke="#262626" stroke-width="0.12" textLength="19.70" lengthAdjust="spacingAndGlyphs">CEBPA</text><text x="28.00" y="292.60" font-size="4.7" fill="#262626" textLength="13.78" lengthAdjust="spacingAndGlyphs">smbZIP</text>
<text x="96.00" y="295.10" font-size="8.6" fill="#1f1f1f" text-anchor="middle" textLength="18.27" lengthAdjust="spacingAndGlyphs" stroke="#1f1f1f" stroke-width="0.18">0.012</text>
<text x="161.20" y="295.10" font-size="8.6" fill="#1f1f1f" text-anchor="middle" textLength="18.27" lengthAdjust="spacingAndGlyphs" stroke="#1f1f1f" stroke-width="0.18">0.012</text>
<text x="226.70" y="295.10" font-size="8.6" fill="#1f1f1f" text-anchor="middle" textLength="2.43" lengthAdjust="spacingAndGlyphs" stroke="#1f1f1f" stroke-width="0.18">-</text>
<text x="7.90" y="308.60" font-size="7.1" font-style="italic" fill="#262626" stroke="#262626" stroke-width="0.12" textLength="19.70" lengthAdjust="spacingAndGlyphs">CEBPA</text><text x="28.00" y="305.90" font-size="4.7" fill="#262626" textLength="3.11" lengthAdjust="spacingAndGlyphs">bi</text>
<text x="96.00" y="308.40" font-size="8.6" fill="#1f1f1f" text-anchor="middle" textLength="22.53" lengthAdjust="spacingAndGlyphs" stroke="#1f1f1f" stroke-width="0.18">&lt;0.001</text>
<text x="161.20" y="308.40" font-size="8.6" fill="#1f1f1f" text-anchor="middle" textLength="22.53" lengthAdjust="spacingAndGlyphs" stroke="#1f1f1f" stroke-width="0.18">&lt;0.001</text>
<text x="226.70" y="308.40" font-size="8.6" fill="#1f1f1f" text-anchor="middle" textLength="18.27" lengthAdjust="spacingAndGlyphs" stroke="#1f1f1f" stroke-width="0.18">0.648</text>
</g>
<rect x="0.5" y="0.5" width="519" height="318" fill="none" stroke="#111" stroke-width="1"/>
</svg>
</body></html>
